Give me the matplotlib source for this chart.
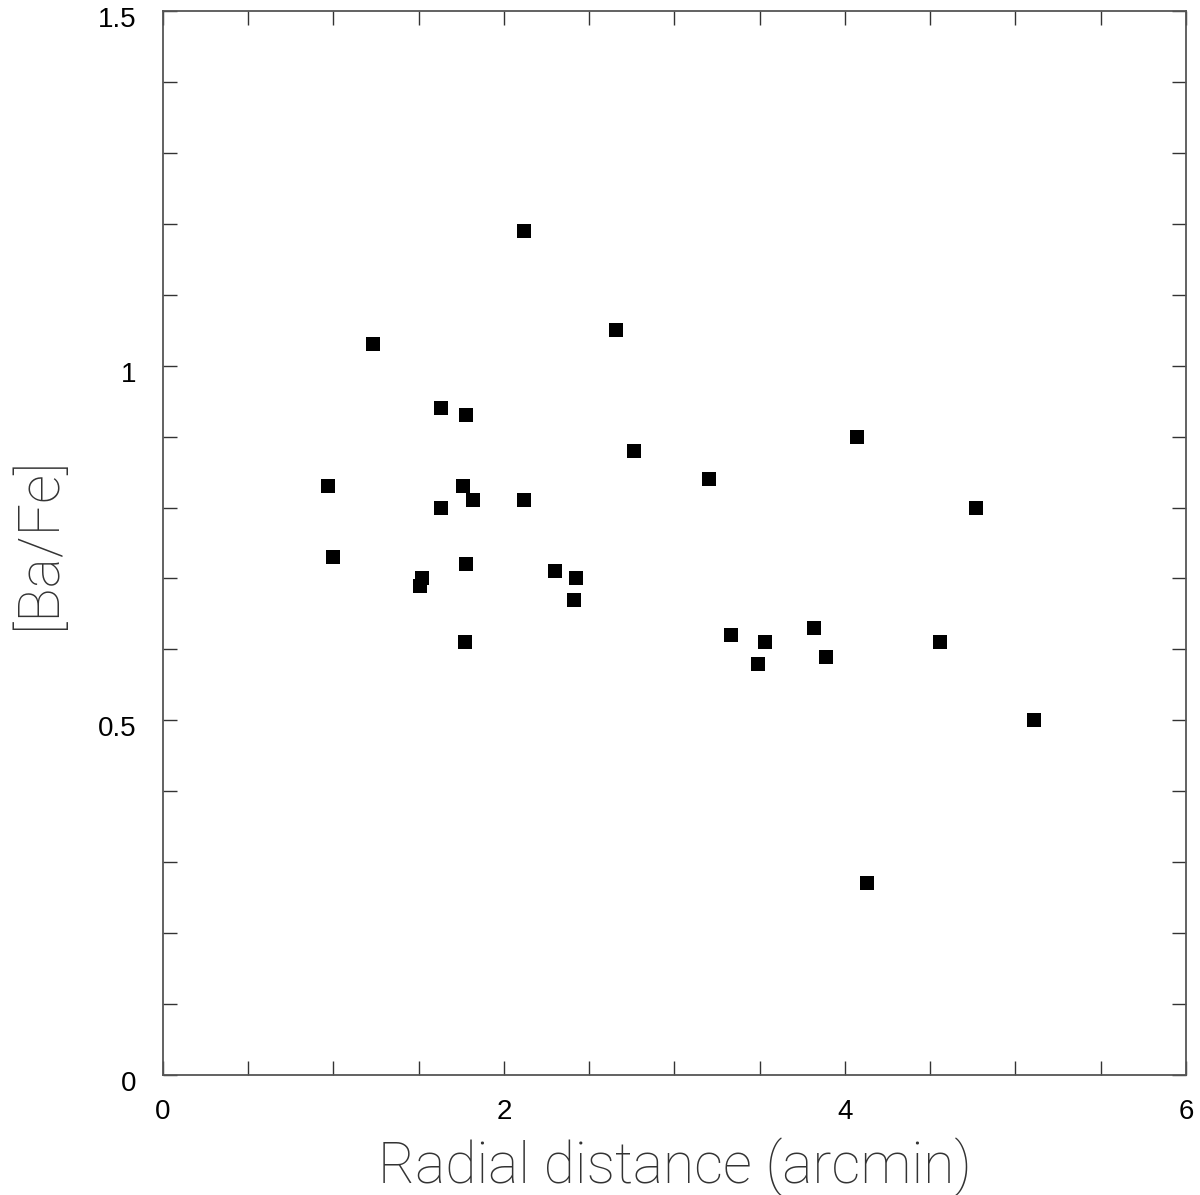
import matplotlib.pyplot as plt
from matplotlib.ticker import MultipleLocator
from matplotlib.transforms import ScaledTranslation

# radial distance (arcmin) and [Ba/Fe]
radius = [0.97, 1.00, 1.23, 1.51, 1.52, 1.63, 1.63, 1.78, 1.76, 1.82, 1.78, 1.77,
          2.12, 2.12, 2.30, 2.42, 2.41, 2.66, 2.76, 3.20, 3.33, 3.53, 3.49, 3.82,
          3.89, 4.07, 4.13, 4.56, 4.77, 5.11]
ba_fe = [0.83, 0.73, 1.03, 0.69, 0.70, 0.94, 0.80, 0.93, 0.83, 0.81, 0.72, 0.61,
         1.19, 0.81, 0.71, 0.70, 0.67, 1.05, 0.88, 0.84, 0.62, 0.61, 0.58, 0.63,
         0.59, 0.90, 0.27, 0.61, 0.80, 0.50]

x_ticks = [0, 2, 4, 6]
x_labels = ["0", "2", "4", "6"]
y_ticks = [0, 0.5, 1, 1.5]
y_labels = ["0", "0.5", "1", "1.5"]

plt.rcParams["font.family"] = ["Liberation Sans", "DejaVu Sans"]

fig = plt.figure(figsize=(12, 11.95), dpi=100)
ax = fig.add_axes([0.1358, 0.1004, 0.8525, 0.8904])

ax.plot(radius, ba_fe, linestyle="none", marker="s", markersize=10.2,
        color="black", markeredgewidth=0)

ax.set_xlim(0, 6)
ax.set_ylim(0, 1.5)
ax.set_xticks(x_ticks)
ax.set_xticklabels(x_labels)
ax.set_yticks(y_ticks)
ax.set_yticklabels(y_labels)
ax.xaxis.set_minor_locator(MultipleLocator(0.5))
ax.yaxis.set_minor_locator(MultipleLocator(0.1))
ax.tick_params(which="both", direction="in", top=True, right=True,
               length=10, width=1, color="#333333", labelsize=20)
ax.tick_params(axis="x", pad=17)
ax.tick_params(axis="y", pad=19)

# y tick labels sit a little below their ticks in the reference
shift = ScaledTranslation(0, -0.06, fig.dpi_scale_trans)
for lab in ax.get_yticklabels():
    lab.set_transform(lab.get_transform() + shift)

for s in ax.spines.values():
    s.set_color("#555555")
    s.set_linewidth(1.3)

label_font = dict(family=["Roboto", "DejaVu Sans"], fontweight=100,
                  fontsize=41, color="#333333")
ax.set_xlabel("Radial distance (arcmin)", **label_font)
ax.set_ylabel("[Ba/Fe]", **label_font)
ax.xaxis.set_label_coords(0.5, -0.058)
ax.xaxis.label.set_verticalalignment("top")
ax.yaxis.set_label_coords(-0.094, 0.5)

fig.savefig("out.png", dpi=100)
